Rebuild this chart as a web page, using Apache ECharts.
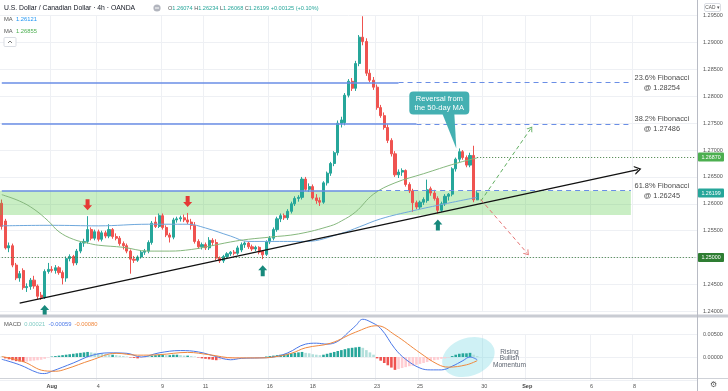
<!DOCTYPE html>
<html><head><meta charset="utf-8">
<script src="https://cdn.jsdelivr.net/npm/echarts@6/dist/echarts.min.js"></script>
<style>html,body{margin:0;padding:0;background:#fff}#c{width:728px;height:391px}</style>
</head><body><div id="c"></div><script>
// ---- data (4h USD/CAD bars, slot index = bar position, weekends removed) ----
const opens = [1.2601,1.2568,1.2518,1.2522,1.2486,1.2462,1.2476,1.2444,1.2446,1.2458,1.2447,1.2430,1.2426,1.2474,1.2478,1.2476,1.2481,1.2472,1.2462,1.2498,1.2502,1.2490,1.2512,1.2527,1.2530,1.2552,1.2536,1.2548,1.2534,1.2546,1.2540,1.2552,1.2539,1.2536,1.2526,1.2522,1.2512,1.2497,1.2495,1.2501,1.2510,1.2512,1.2528,1.2566,1.2558,1.2578,1.2556,1.2542,1.2538,1.2570,1.2572,1.2574,1.2570,1.2566,1.2560,1.2530,1.2520,1.2524,1.2518,1.2532,1.2528,1.2499,1.2494,1.2502,1.2507,1.2510,1.2508,1.2514,1.2524,1.2527,1.2520,1.2516,1.2519,1.2512,1.2506,1.2529,1.2536,1.2552,1.2572,1.2578,1.2574,1.2586,1.2600,1.2610,1.2612,1.2646,1.2627,1.2632,1.2611,1.2606,1.2603,1.2639,1.2657,1.2675,1.2695,1.2750,1.2751,1.2802,1.2828,1.2815,1.2861,1.2910,1.2902,1.2843,1.2830,1.2817,1.2779,1.2764,1.2742,1.2718,1.2693,1.2654,1.2659,1.2662,1.2636,1.2624,1.2602,1.2594,1.2603,1.2606,1.2628,1.2620,1.2610,1.2588,1.2600,1.2614,1.2618,1.2665,1.2683,1.2697,1.2686,1.2672,1.2690,1.26074];
const highs = [1.2608,1.2572,1.2528,1.2526,1.2490,1.2475,1.2480,1.2452,1.2462,1.2466,1.2450,1.2436,1.2478,1.2490,1.2484,1.2486,1.2484,1.2476,1.2502,1.2506,1.2505,1.2516,1.2530,1.2535,1.2577,1.2556,1.2552,1.2552,1.2550,1.2550,1.2562,1.2555,1.2545,1.2540,1.2530,1.2526,1.2515,1.2503,1.2504,1.2514,1.2516,1.2532,1.2568,1.2576,1.2582,1.2582,1.2560,1.2546,1.2574,1.2576,1.2578,1.2580,1.2583,1.2572,1.2566,1.2534,1.2528,1.2528,1.2538,1.2536,1.2534,1.2502,1.2505,1.2510,1.2512,1.2514,1.2522,1.2528,1.2530,1.2530,1.2524,1.2522,1.2521,1.2514,1.2532,1.2540,1.2556,1.2576,1.2582,1.2582,1.2590,1.2604,1.2614,1.2616,1.2650,1.2650,1.2638,1.2636,1.2618,1.2612,1.2642,1.2660,1.2678,1.2698,1.2755,1.2762,1.2806,1.2832,1.2834,1.2866,1.2914,1.2949,1.2908,1.2850,1.2836,1.2822,1.2784,1.2770,1.2748,1.2722,1.2698,1.2664,1.2666,1.2664,1.2640,1.2628,1.2606,1.2606,1.2612,1.2645,1.2632,1.2626,1.2614,1.2604,1.2618,1.2620,1.2668,1.2686,1.2703,1.2700,1.2690,1.2695,1.2708,1.26234];
const lows = [1.2552,1.2515,1.2510,1.2482,1.2458,1.2455,1.2440,1.2436,1.2440,1.2442,1.2422,1.2421,1.2423,1.2470,1.2472,1.2470,1.2468,1.2450,1.2455,1.2493,1.2485,1.2486,1.2508,1.2520,1.2526,1.2532,1.2532,1.2530,1.2530,1.2536,1.2536,1.2535,1.2532,1.2522,1.2515,1.2508,1.2470,1.2490,1.2492,1.2498,1.2505,1.2508,1.2524,1.2555,1.2555,1.2552,1.2538,1.2528,1.2534,1.2565,1.2567,1.2566,1.2562,1.2552,1.2526,1.2516,1.2515,1.2514,1.2514,1.2522,1.2495,1.2490,1.2490,1.2498,1.2503,1.2504,1.2505,1.2510,1.2518,1.2516,1.2512,1.2512,1.2506,1.2497,1.2503,1.2525,1.2532,1.2548,1.2566,1.2570,1.2570,1.2582,1.2596,1.2604,1.2608,1.2624,1.2622,1.2608,1.2600,1.2596,1.2600,1.2634,1.2652,1.2670,1.2690,1.2742,1.2746,1.2798,1.2810,1.2810,1.2856,1.2895,1.2838,1.2826,1.2812,1.2775,1.2760,1.2738,1.2713,1.2688,1.2650,1.2648,1.2652,1.2632,1.2620,1.2585,1.2590,1.2590,1.2598,1.2602,1.2615,1.2606,1.2582,1.2585,1.2596,1.2606,1.2614,1.2660,1.2678,1.2682,1.2668,1.2668,1.2603,1.26068];
const closes = [1.2558,1.2518,1.2522,1.2486,1.2462,1.2470,1.2444,1.2446,1.2458,1.2447,1.2428,1.2426,1.2474,1.2478,1.2476,1.2481,1.2472,1.2462,1.2498,1.2502,1.2490,1.2512,1.2527,1.2530,1.2552,1.2536,1.2548,1.2534,1.2546,1.2540,1.2552,1.2539,1.2536,1.2526,1.2522,1.2512,1.2497,1.2495,1.2501,1.2510,1.2512,1.2528,1.2564,1.2558,1.2578,1.2556,1.2542,1.2538,1.2570,1.2572,1.2574,1.2570,1.2566,1.2560,1.2530,1.2520,1.2524,1.2518,1.2532,1.2528,1.2499,1.2494,1.2502,1.2507,1.2510,1.2508,1.2518,1.2524,1.2527,1.2520,1.2516,1.2519,1.2510,1.2505,1.2529,1.2536,1.2552,1.2572,1.2578,1.2574,1.2586,1.2600,1.2610,1.2612,1.2646,1.2627,1.2632,1.2611,1.2606,1.2603,1.2639,1.2657,1.2675,1.2695,1.2750,1.2756,1.2802,1.2828,1.2815,1.2861,1.2910,1.2902,1.2843,1.2830,1.2817,1.2779,1.2764,1.2742,1.2718,1.2693,1.2654,1.2659,1.2662,1.2636,1.2624,1.2602,1.2594,1.2603,1.2608,1.2626,1.2620,1.2610,1.2588,1.2600,1.2614,1.2618,1.2665,1.2683,1.2697,1.2686,1.2672,1.2690,1.26074,1.26199];

// moving averages read at sample bars: [slot, price]
const maBlue = [[0,1.2559],[14,1.2560],[27,1.2559],[41,1.2562],[52,1.2562],[57,1.2555],[64,1.2540],[69,1.2530],[75,1.2530],[85,1.2530],[95,1.2545],[100,1.2557],[106,1.2572],[115,1.2587],[124,1.2600],[133,1.26121]];
const maGreen = [[0,1.2617],[5,1.2605],[9,1.2590],[13,1.2568],[16,1.2548],[20,1.2534],[24,1.2527],[27,1.2523],[34,1.2519],[41,1.2512],[47,1.2512],[53,1.2515],[58,1.2521],[64,1.2529],[69,1.2534],[75,1.2538],[83,1.2544],[92,1.2559],[95,1.2568],[99,1.2585],[104,1.2618],[110,1.2639],[118,1.2656],[127,1.2675],[133,1.26855]];

// MACD
const macdLine = [[0,-0.0005],[5,-0.0017],[10,-0.0034],[12,-0.0036],[14,-0.0031],[20,-0.0013],[25,0.0003],[30,0.0009],[35,0.0008],[39,0.0000],[44,0.0009],[50,0.0014],[55,0.0011],[60,0.0001],[64,-0.0006],[67,-0.0003],[72,-0.0002],[76,0.0000],[80,0.0009],[85,0.0028],[88,0.0030],[91,0.0028],[94,0.0034],[97,0.0054],[99,0.0068],[101,0.0082],[103,0.0077],[106,0.0062],[110,0.0018],[113,-0.0005],[117,-0.0024],[120,-0.0028],[123,-0.0028],[126,-0.0020],[129,-0.0008],[131,0.0000],[133,-0.00059]];
const signalLine = [[0,0.0001],[6,-0.0010],[12,-0.0030],[15,-0.0031],[18,-0.0026],[25,-0.0007],[32,0.0008],[38,0.0004],[44,0.0005],[52,0.0010],[58,0.0005],[65,-0.0002],[72,-0.0002],[76,0.0000],[81,0.0008],[85,0.0020],[92,0.0030],[99,0.0054],[105,0.0068],[110,0.0048],[117,0.0009],[122,-0.0016],[125,-0.0022],[130,-0.0017],[133,-0.0008]];
const histogram = [0.0001,-0.0003,-0.0005,-0.0007,-0.0009,-0.0010,-0.0011,-0.0010,-0.0009,-0.0008,-0.0007,-0.0006,-0.0004,-0.0001,0.0001,0.0002,0.0003,0.0004,0.0005,0.0006,0.0007,0.0008,0.0009,0.0010,0.0011,0.0010,0.0009,0.0008,0.0007,0.0006,0.0005,0.0005,0.0004,0.0003,0.0002,0.0001,-0.0001,-0.0002,-0.0003,-0.0002,-0.0001,0.0001,0.0003,0.0004,0.0005,0.0005,0.0004,0.0004,0.0005,0.0005,0.0004,0.0003,0.0003,0.0002,0.0001,-0.0001,-0.0003,-0.0004,-0.0005,-0.0006,-0.0007,-0.0006,-0.0005,-0.0004,-0.0003,-0.0003,-0.0002,-0.0002,-0.0001,-0.0001,-0.0001,-0.0001,-0.0001,-0.0001,0.0001,0.0002,0.0003,0.0004,0.0005,0.0006,0.0007,0.0008,0.0009,0.0010,0.0011,0.0009,0.0008,0.0006,0.0005,0.0004,0.0005,0.0007,0.0009,0.0011,0.0013,0.0015,0.0017,0.0019,0.0020,0.0021,0.0022,0.0020,0.0015,0.0010,0.0005,-0.0003,-0.0008,-0.0013,-0.0018,-0.0023,-0.0028,-0.0026,-0.0024,-0.0022,-0.0020,-0.0019,-0.0017,-0.0015,-0.0013,-0.0011,-0.0009,-0.0007,-0.0006,-0.0004,-0.0003,-0.0001,0.0002,0.0005,0.0007,0.0008,0.0008,0.0009,0.0005,0.00021];

// axis ticks
const totalSlots = 195;
const tickSlots = [14,27,45,57,75,87,105,117,135,147,165,177];
const tickLabels = ['Aug','4','9','11','16','18','23','25','30','Sep','6','8'];

// levels
const fibNames = ['23.6% Fibonacci','38.2% Fibonacci','61.8% Fibonacci'];
const fibValues = [1.28254,1.27486,1.26245];
const zoneBottom = 1.2579;
const resistanceLevel = 1.26870;
const supportLevel = 1.25000;
const trendStart = [5,1.24150];
const trendEnd = [178,1.26637];
const bullTarget = [[134,1.2605],[148,1.2740]];
const bearTarget = [[134,1.2608],[147,1.2508]];
const headerOHLC = {o:'1.26074',h:'1.26234',l:'1.26068',c:'1.26199',chg:'+0.00125 (+0.10%)'};
const macdHeader = ['0.00021','-0.00059','-0.00080'];

// ---- chart ----
const FONT = "'Liberation Sans', Arial, sans-serif";
const chart = echarts.init(document.getElementById('c'), null, {renderer:'canvas'});
const cats = Array.from({length: totalSlots}, (_, i) => String(i));
const tickMap = {}; tickSlots.forEach((s, i) => tickMap[s] = tickLabels[i]);
const isTick = (i) => tickMap[i] !== undefined;
const candleData = opens.map((o, i) => [o, closes[i], lows[i], highs[i]]);
const histData = histogram.map((v, i) => {
  const p = i > 0 ? histogram[i - 1] : null;
  let c;
  if (v >= 0) c = (p !== null && v >= p) ? '#26a69a' : '#b2dfdb';
  else c = (p !== null && v < p) ? '#ef5350' : '#ffcdd2';
  return {value: v, itemStyle: {color: c}};
});
const gridColor = '#eef0f4';
const fibSolidEnd = [111, 116, 105];
const fibDashEnd = 176;
const fibColor = '#6a8ee6';
const chevron = 'path://M0,10 L5,0 L10,10 L8.4,10 L5,3.2 L1.6,10 Z';

const markLines = [];
fibValues.forEach((v, i) => {
  markLines.push([{coord:[0, v], lineStyle:{color:fibColor, width:1.5, type:'solid'}}, {coord:[fibSolidEnd[i], v]}]);
  markLines.push([{coord:[fibSolidEnd[i], v], lineStyle:{color:fibColor, width:1.2, type:[5,4]}}, {coord:[fibDashEnd, v]}]);
});
markLines.push([{coord:[133, resistanceLevel], lineStyle:{color:'#3c7a3c', width:1, type:[1,2]}}, {coord:[totalSlots-1, resistanceLevel]}]);
markLines.push([{coord:[0, supportLevel], lineStyle:{color:'#3c7a3c', width:1, type:[1,2]}}, {coord:[totalSlots-1, supportLevel]}]);
markLines.push([{coord:trendStart, lineStyle:{color:'#111', width:1.3, type:'solid'}}, {coord:trendEnd, symbol:chevron, symbolSize:[9,7]}]);
markLines.push([{coord:bullTarget[0], lineStyle:{color:'#5fae5f', width:1, type:[4,3]}}, {coord:bullTarget[1], symbol:chevron, symbolSize:[7,5]}]);
markLines.push([{coord:bearTarget[0], lineStyle:{color:'#e57373', width:1, type:[4,3]}}, {coord:bearTarget[1], symbol:chevron, symbolSize:[7,5]}]);

const option = {
  animation: false,
  backgroundColor: '#ffffff',
  textStyle: {fontFamily: FONT},
  grid: [
    {left: 0, right: 31, top: 15.7, height: 295.6},
    {left: 0, right: 31, top: 334, height: 46}
  ],
  xAxis: [
    {type:'category', gridIndex:0, data:cats, boundaryGap:true,
     axisLine:{show:false}, axisTick:{show:false}, axisLabel:{show:false},
     splitLine:{show:true, interval:(i)=>isTick(i), lineStyle:{color:gridColor, width:1}}},
    {type:'category', gridIndex:1, data:cats, boundaryGap:true,
     axisLine:{show:false}, axisTick:{show:false},
     axisLabel:{show:true, interval:(i)=>isTick(i), margin:3, fontSize:5.5, color:'#555', fontFamily:FONT,
       formatter:(v)=>{const t = tickMap[+v]; if (!t) return ''; return /[A-Za-z]/.test(t) ? '{b|'+t+'}' : t;},
       rich:{b:{fontWeight:'bold', fontSize:5.5, color:'#444', fontFamily:FONT}}},
     splitLine:{show:true, interval:(i)=>isTick(i), lineStyle:{color:gridColor, width:1}}}
  ],
  yAxis: [
    {type:'value', gridIndex:0, position:'right', min:1.24, max:1.295, interval:0.005, scale:true,
     axisLine:{show:false}, axisTick:{show:false},
     axisLabel:{margin:6, fontSize:5.5, color:'#555', fontFamily:FONT, formatter:(v)=>v.toFixed(5)},
     splitLine:{lineStyle:{color:gridColor, width:1}}},
    {type:'value', gridIndex:1, position:'right', min:-0.005, max:0.005, interval:0.005,
     axisLine:{show:false}, axisTick:{show:false},
     axisLabel:{margin:6, fontSize:5.5, color:'#555', fontFamily:FONT, formatter:(v)=> v < 0 ? '' : v.toFixed(5)},
     splitLine:{lineStyle:{color:gridColor, width:1}}}
  ],
  series: [
    {type:'candlestick', xAxisIndex:0, yAxisIndex:0, data:candleData, barWidth:2.6, z:2,
     itemStyle:{color:'#26a69a', color0:'#ef5350', borderColor:'#26a69a', borderColor0:'#ef5350', borderWidth:1}},
    {type:'line', xAxisIndex:0, yAxisIndex:0, data:maBlue, smooth:0.4, showSymbol:false, symbol:'none', z:3,
     lineStyle:{color:'#6fa8dc', width:1}},
    {type:'line', xAxisIndex:0, yAxisIndex:0, data:maGreen, smooth:0.4, showSymbol:false, symbol:'none', z:3,
     lineStyle:{color:'#86b87e', width:1}},
    {type:'line', xAxisIndex:0, yAxisIndex:0, data:[], z:5, silent:true,
     markArea:{silent:true, itemStyle:{color:'rgba(76,200,60,0.30)'},
       data:[[{coord:[0, fibValues[2]]}, {coord:[fibDashEnd, zoneBottom]}]]},
     markLine:{silent:true, symbol:['none','none'], label:{show:false}, data:markLines}},
    {type:'bar', xAxisIndex:1, yAxisIndex:1, data:histData, barWidth:2.6, z:2},
    {type:'line', xAxisIndex:1, yAxisIndex:1, data:macdLine, smooth:0.4, showSymbol:false, symbol:'none', clip:false, z:3,
     lineStyle:{color:'#4a78e8', width:1}},
    {type:'line', xAxisIndex:1, yAxisIndex:1, data:signalLine, smooth:0.4, showSymbol:false, symbol:'none', clip:false, z:3,
     lineStyle:{color:'#f0883e', width:1}}
  ]
};
chart.setOption(option);

// ---- annotations placed from data coordinates ----
const P = (s, v) => chart.convertToPixel({gridIndex:0}, [s, v]);
const Q = (s, v) => chart.convertToPixel({gridIndex:1}, [s, v]);
const els = [];
const txt = (x, y, text, size, fill, extra) => els.push({type:'text', x, y, z:100,
  style: Object.assign({text, fill, fontSize:size, fontFamily:FONT, align:'left', verticalAlign:'middle'}, extra || {})});

// frame lines
els.push({type:'rect', shape:{x:0, y:314.5, width:728, height:3}, style:{fill:'#c9ccd3'}, z:90});
els.push({type:'line', shape:{x1:0, y1:378.5, x2:728, y2:378.5}, style:{stroke:'#cfd2d8', lineWidth:1}, z:90});
els.push({type:'line', shape:{x1:697.5, y1:0, x2:697.5, y2:391}, style:{stroke:'#b8bbc4', lineWidth:1}, z:90});

// left edge of zone (first slot starts at pixel 0)
{
  const a = P(0, fibValues[2]), b = P(0, zoneBottom);
  els.push({type:'rect', z:40, shape:{x:0, y:a[1], width:a[0], height:b[1]-a[1]}, style:{fill:'rgba(76,200,60,0.30)'}});
}

// fib labels
fibValues.forEach((v, i) => {
  const p = P(fibDashEnd, v);
  txt(p[0] + 31, p[1] - 5, fibNames[i], 7.4, '#4a4a4a', {align:'center'});
  txt(p[0] + 31, p[1] + 5, '@ ' + v.toFixed(5), 7.4, '#4a4a4a', {align:'center'});
});

// price tags on axis
[[resistanceLevel, '#4caf50'], [closes[closes.length-1], '#26a69a'], [supportLevel, '#2e7d32']].forEach(([v, c]) => {
  const p = P(0, v);
  els.push({type:'rect', shape:{x:698, y:p[1]-4.5, width:26, height:9, r:1}, style:{fill:c}, z:95});
  txt(711, p[1], v.toFixed(5), 5.3, '#ffffff', {align:'center'});
});

// arrows
const downArrow = (x, yt, c) => els.push({type:'polygon', z:60, shape:{points:[[x,yt],[x-4.5,yt-5],[x-2,yt-5],[x-2,yt-11],[x+2,yt-11],[x+2,yt-5],[x+4.5,yt-5]]}, style:{fill:c}});
const upArrow = (x, yt, c) => els.push({type:'polygon', z:60, shape:{points:[[x,yt],[x-4.5,yt+5],[x-2,yt+5],[x-2,yt+11],[x+2,yt+11],[x+2,yt+5],[x+4.5,yt+5]]}, style:{fill:c}});
[24, 52].forEach(s => { const p = P(s, highs[s]); downArrow(p[0], p[1] - 6, '#e53935'); });
[12, 73, 122].forEach(s => { const p = P(s, lows[s]); upArrow(p[0], p[1] + 6, '#18897c'); });

// callout
{
  const t = P(128, highs[128]);
  const tx = t[0] - 3, ty = t[1];
  const bx = tx - 47, by = ty - 57;
  els.push({type:'polygon', z:70, shape:{points:[[bx+33, by+22],[bx+45, by+22],[tx, ty]]}, style:{fill:'#44b0b2'}});
  els.push({type:'rect', z:70, shape:{x:bx, y:by, width:60, height:23, r:4}, style:{fill:'#44b0b2'}});
  txt(bx + 30, by + 7, 'Reversal from', 7.6, '#ffffff', {align:'center'});
  txt(bx + 30, by + 16, 'the 50-day MA', 7.6, '#ffffff', {align:'center'});
}

// MACD ellipse + note
{
  const c = Q(130, 0);
  els.push({type:'ellipse', z:1, x:c[0]+2, y:c[1], rotation:0.35, shape:{cx:0, cy:0, rx:27, ry:19}, style:{fill:'rgba(110,212,226,0.33)'}});
  txt(c[0] + 43, c[1] - 5, 'Rising', 6.6, '#5d6470', {align:'center'});
  txt(c[0] + 43, c[1] + 1.5, 'Bullish', 6.6, '#5d6470', {align:'center'});
  txt(c[0] + 43, c[1] + 8, 'Momentum', 6.6, '#5d6470', {align:'center'});
}

// header legend
txt(4, 8, 'U.S. Dollar / Canadian Dollar · 4h · OANDA', 6.8, '#131722');
els.push({type:'circle', z:100, shape:{cx:157, cy:8, r:3.6}, style:{fill:'#b2b5be'}});
els.push({type:'rect', z:101, shape:{x:155, y:7.5, width:4, height:1}, style:{fill:'#fff'}});
els.push({type:'text', x:168, y:8, z:100, style:{
  text:'{g|O}{v|'+headerOHLC.o+'} {g|H}{v|'+headerOHLC.h+'} {g|L}{v|'+headerOHLC.l+'} {g|C}{v|'+headerOHLC.c+'} {v|'+headerOHLC.chg+'}',
  fontSize:5.6, fontFamily:FONT, verticalAlign:'middle', align:'left',
  rich:{g:{fill:'#555', fontSize:5.6, fontFamily:FONT}, v:{fill:'#26a69a', fontSize:5.6, fontFamily:FONT}}}});
els.push({type:'text', x:4, y:19.5, z:100, style:{text:'{g|MA}  {b|1.26121}', fontSize:5.8, fontFamily:FONT, verticalAlign:'middle',
  rich:{g:{fill:'#555', fontSize:5.8, fontFamily:FONT}, b:{fill:'#2196f3', fontSize:5.8, fontFamily:FONT}}}});
els.push({type:'text', x:4, y:31, z:100, style:{text:'{g|MA}  {b|1.26855}', fontSize:5.8, fontFamily:FONT, verticalAlign:'middle',
  rich:{g:{fill:'#555', fontSize:5.8, fontFamily:FONT}, b:{fill:'#4caf50', fontSize:5.8, fontFamily:FONT}}}});
els.push({type:'rect', z:100, shape:{x:4, y:37.5, width:12, height:9, r:1}, style:{fill:'#fff', stroke:'#d1d4dc', lineWidth:0.8}});
els.push({type:'polyline', z:101, shape:{points:[[8,43],[10,41],[12,43]]}, style:{stroke:'#555', lineWidth:0.8, fill:null}});

// MACD legend
els.push({type:'text', x:4, y:324, z:100, style:{
  text:'{g|MACD}  {a|'+macdHeader[0]+'}  {b|'+macdHeader[1]+'}  {o|'+macdHeader[2]+'}',
  fontSize:5.8, fontFamily:FONT, verticalAlign:'middle',
  rich:{g:{fill:'#555', fontSize:5.8, fontFamily:FONT}, a:{fill:'#80cbc4', fontSize:5.8, fontFamily:FONT},
        b:{fill:'#4a78e8', fontSize:5.8, fontFamily:FONT}, o:{fill:'#f0883e', fontSize:5.8, fontFamily:FONT}}}});

// CAD box & gear
els.push({type:'rect', z:100, shape:{x:704.5, y:3.5, width:16, height:8, r:1.5}, style:{fill:'#fff', stroke:'#d1d4dc', lineWidth:0.8}});
txt(712.5, 7.7, 'CAD ▾', 4.8, '#555', {align:'center'});
txt(713, 385, '⚙', 8, '#555', {align:'center'});

chart.setOption({graphic: els});
</script></body></html>
